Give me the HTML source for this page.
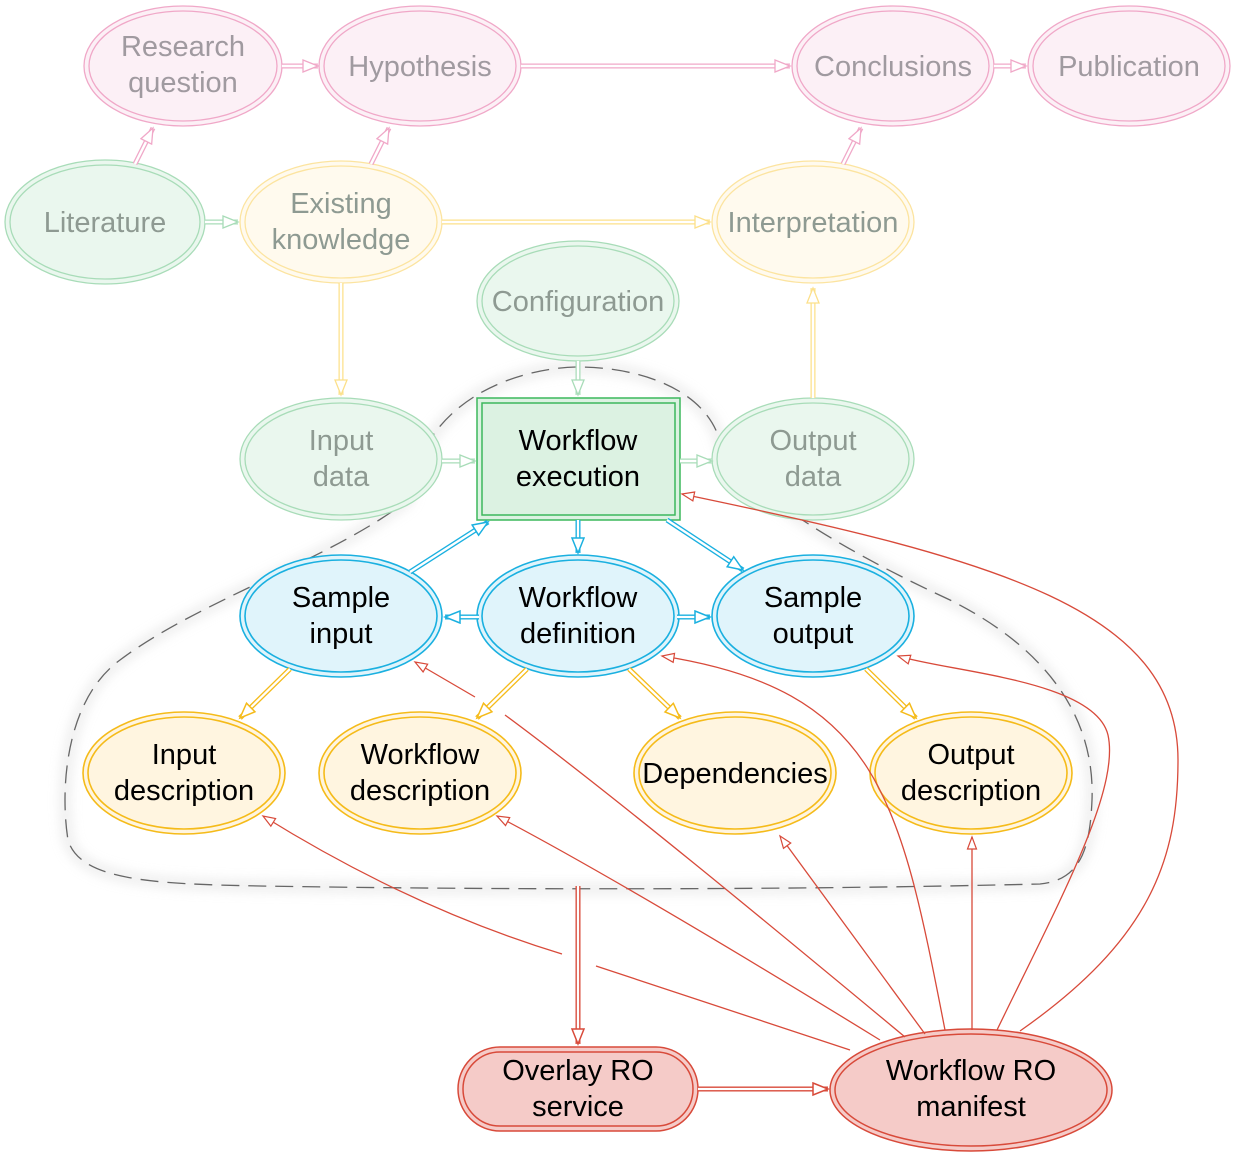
<!DOCTYPE html>
<html><head><meta charset="utf-8"><style>
html,body{margin:0;padding:0;background:#fff;}
svg{display:block;}
text{font-family:"Liberation Sans",sans-serif;font-size:29px;text-anchor:middle;}
.g{fill:#8e9a92}
.pk{fill:#a09aa0}
.k{fill:#000}
</style></head><body>
<svg width="1233" height="1155" viewBox="0 0 1233 1155" xmlns="http://www.w3.org/2000/svg">
<defs>
<marker id="ap" markerUnits="userSpaceOnUse" markerWidth="20" markerHeight="20" refX="16" refY="7" orient="auto"><path d="M1,1 L16,7 L1,13 Z" fill="#fff" stroke="#f0a8c8" stroke-width="1.3"/></marker>
<marker id="ag" markerUnits="userSpaceOnUse" markerWidth="20" markerHeight="20" refX="16" refY="7" orient="auto"><path d="M1,1 L16,7 L1,13 Z" fill="#fff" stroke="#a8dcb8" stroke-width="1.3"/></marker>
<marker id="ay" markerUnits="userSpaceOnUse" markerWidth="20" markerHeight="20" refX="16" refY="7" orient="auto"><path d="M1,1 L16,7 L1,13 Z" fill="#fff" stroke="#fce08a" stroke-width="1.3"/></marker>
<marker id="ab" markerUnits="userSpaceOnUse" markerWidth="20" markerHeight="20" refX="16" refY="7" orient="auto"><path d="M1,1 L16,7 L1,13 Z" fill="#fff" stroke="#1ab0e0" stroke-width="1.5"/></marker>
<marker id="ao" markerUnits="userSpaceOnUse" markerWidth="20" markerHeight="20" refX="16" refY="7" orient="auto"><path d="M1,1 L16,7 L1,13 Z" fill="#fff" stroke="#f5bb1a" stroke-width="1.5"/></marker>
<marker id="ar" markerUnits="userSpaceOnUse" markerWidth="20" markerHeight="20" refX="16" refY="7" orient="auto"><path d="M1,1 L16,7 L1,13 Z" fill="#fff" stroke="#d84a3a" stroke-width="1.5"/></marker>
<marker id="ar2" markerUnits="userSpaceOnUse" markerWidth="16" markerHeight="16" refX="13" refY="6" orient="auto"><path d="M1,1.5 L13,6 L1,10.5 Z" fill="#fff" stroke="#d84a3a" stroke-width="1.2"/></marker>
<filter id="sh" x="-20%" y="-20%" width="140%" height="140%"><feGaussianBlur stdDeviation="6"/></filter>
</defs>

<!-- dashed overlay blob with shadow -->
<path id="blob" d="M408,500 C425,385 540,367 578,367 C640,367 712,390 722,450 C745,485 820,540 950,600 C1050,650 1095,720 1092,800 C1090,850 1080,880 1040,884 C800,890 500,890 260,886 C150,884 80,880 68,840 C60,790 65,700 120,660 C200,600 330,560 408,500 Z" fill="none" stroke="#ddd" stroke-width="8" filter="url(#sh)" opacity="0.7"/>
<path d="M408,500 C425,385 540,367 578,367 C640,367 712,390 722,450 C745,485 820,540 950,600 C1050,650 1095,720 1092,800 C1090,850 1080,880 1040,884 C800,890 500,890 260,886 C150,884 80,880 68,840 C60,790 65,700 120,660 C200,600 330,560 408,500 Z" fill="none" stroke="#666" stroke-width="1.3" stroke-dasharray="18,9"/>

<!-- pink nodes -->
<g fill="#fcf0f6" stroke="#f0a8c8" stroke-width="1.3">
<ellipse cx="183" cy="66" rx="99" ry="60"/><ellipse cx="183" cy="66" rx="94" ry="55"/>
<ellipse cx="420" cy="66" rx="101" ry="60"/><ellipse cx="420" cy="66" rx="96" ry="55"/>
<ellipse cx="893" cy="66" rx="101" ry="60"/><ellipse cx="893" cy="66" rx="96" ry="55"/>
<ellipse cx="1129" cy="66" rx="101" ry="60"/><ellipse cx="1129" cy="66" rx="96" ry="55"/>
</g>
<text class="pk" x="183" y="56">Research</text><text class="pk" x="183" y="92">question</text>
<text class="pk" x="420" y="76">Hypothesis</text>
<text class="pk" x="893" y="76">Conclusions</text>
<text class="pk" x="1129" y="76">Publication</text>

<!-- green light -->
<g fill="#eaf7ee" stroke="#a8dcb8" stroke-width="1.3">
<ellipse cx="105" cy="222" rx="100" ry="62"/><ellipse cx="105" cy="222" rx="95" ry="57"/>
<ellipse cx="578" cy="301" rx="101" ry="60"/><ellipse cx="578" cy="301" rx="96" ry="55"/>
<ellipse cx="341" cy="459" rx="101" ry="61"/><ellipse cx="341" cy="459" rx="96" ry="56"/>
<ellipse cx="813" cy="459" rx="101" ry="61"/><ellipse cx="813" cy="459" rx="96" ry="56"/>
</g>
<text class="g" x="105" y="232">Literature</text>
<text class="g" x="578" y="311">Configuration</text>
<text class="g" x="341" y="450">Input</text><text class="g" x="341" y="486">data</text>
<text class="g" x="813" y="450">Output</text><text class="g" x="813" y="486">data</text>

<!-- yellow light -->
<g fill="#fffaee" stroke="#fce4a0" stroke-width="1.3">
<ellipse cx="341" cy="222" rx="101" ry="61"/><ellipse cx="341" cy="222" rx="96" ry="56"/>
<ellipse cx="813" cy="222" rx="101" ry="61"/><ellipse cx="813" cy="222" rx="96" ry="56"/>
</g>
<text class="g" x="341" y="213">Existing</text><text class="g" x="341" y="249">knowledge</text>
<text class="g" x="813" y="232">Interpretation</text>

<!-- workflow execution -->
<rect x="477" y="398" width="203" height="122" fill="#dcf2e2" stroke="#3cb85c" stroke-width="1.5"/>
<rect x="482" y="403" width="193" height="112" fill="none" stroke="#3cb85c" stroke-width="1.5"/>
<text class="k" x="578" y="450">Workflow</text><text class="k" x="578" y="486">execution</text>

<!-- blue -->
<g fill="#e0f4fb" stroke="#1ab0e0" stroke-width="1.6">
<ellipse cx="341" cy="616" rx="101" ry="61"/><ellipse cx="341" cy="616" rx="96" ry="56"/>
<ellipse cx="578" cy="616" rx="101" ry="61"/><ellipse cx="578" cy="616" rx="96" ry="56"/>
<ellipse cx="813" cy="616" rx="101" ry="61"/><ellipse cx="813" cy="616" rx="96" ry="56"/>
</g>
<text class="k" x="341" y="607">Sample</text><text class="k" x="341" y="643">input</text>
<text class="k" x="578" y="607">Workflow</text><text class="k" x="578" y="643">definition</text>
<text class="k" x="813" y="607">Sample</text><text class="k" x="813" y="643">output</text>

<!-- yellow strong -->
<g fill="#fff5e0" stroke="#f5bb1a" stroke-width="1.6">
<ellipse cx="184" cy="773" rx="101" ry="61"/><ellipse cx="184" cy="773" rx="96" ry="56"/>
<ellipse cx="420" cy="773" rx="101" ry="61"/><ellipse cx="420" cy="773" rx="96" ry="56"/>
<ellipse cx="735" cy="773" rx="101" ry="61"/><ellipse cx="735" cy="773" rx="96" ry="56"/>
<ellipse cx="971" cy="773" rx="101" ry="61"/><ellipse cx="971" cy="773" rx="96" ry="56"/>
</g>
<text class="k" x="184" y="764">Input</text><text class="k" x="184" y="800">description</text>
<text class="k" x="420" y="764">Workflow</text><text class="k" x="420" y="800">description</text>
<text class="k" x="735" y="783">Dependencies</text>
<text class="k" x="971" y="764">Output</text><text class="k" x="971" y="800">description</text>

<!-- red nodes -->
<g fill="#f5cbc8" stroke="#d84a3a" stroke-width="1.5">
<rect x="458" y="1047" width="240" height="84" rx="42"/>
<rect x="463" y="1052" width="230" height="74" rx="37"/>
<ellipse cx="971" cy="1090" rx="141" ry="61"/><ellipse cx="971" cy="1090" rx="136" ry="56"/>
</g>
<text class="k" x="578" y="1080">Overlay RO</text><text class="k" x="578" y="1116">service</text>
<text class="k" x="971" y="1080">Workflow RO</text><text class="k" x="971" y="1116">manifest</text>

<!-- double arrows -->
<g fill="none">
<g stroke="#f0a8c8"><path d="M282,66 H318 M521,66 H790 M994,66 H1026 M135,164 L153,128 M371,164 L389,128 M843,164 L861,128" stroke-width="5"/></g>
<g stroke="#fff" stroke-width="2.5" marker-end="url(#ap)"><path d="M282,66 H318"/><path d="M521,66 H790"/><path d="M994,66 H1026"/><path d="M135,164 L153,128"/><path d="M371,164 L389,128"/><path d="M843,164 L861,128"/></g>

<g stroke="#a8dcb8" stroke-width="5"><path d="M205,222 H238 M578,361 V395 M442,461 H475 M680,461 H712"/></g>
<g stroke="#fff" stroke-width="2.5" marker-end="url(#ag)"><path d="M205,222 H238"/><path d="M578,361 V395"/><path d="M442,461 H475"/><path d="M680,461 H712"/></g>

<g stroke="#fce08a" stroke-width="5"><path d="M442,222 H710 M341,283 V395 M813,398 V288"/></g>
<g stroke="#fff" stroke-width="2.5" marker-end="url(#ay)"><path d="M442,222 H710"/><path d="M341,283 V395"/><path d="M813,398 V288"/></g>

<g stroke="#1ab0e0" stroke-width="5"><path d="M410,572 L488,522 M578,520 V553 M667,520 L743,570 M479,617 H445 M677,617 H710"/></g>
<g stroke="#fff" stroke-width="2.3" marker-end="url(#ab)"><path d="M410,572 L488,522"/><path d="M578,520 V553"/><path d="M667,520 L743,570"/><path d="M479,617 H445"/><path d="M677,617 H710"/></g>

<g stroke="#f5bb1a" stroke-width="5"><path d="M290,669 L240,718 M527,669 L477,718 M629,669 L680,718 M866,669 L916,718"/></g>
<g stroke="#fff" stroke-width="2.3" marker-end="url(#ao)"><path d="M290,669 L240,718"/><path d="M527,669 L477,718"/><path d="M629,669 L680,718"/><path d="M866,669 L916,718"/></g>

<g stroke="#d84a3a" stroke-width="5"><path d="M578,886 V1044 M698,1089 H828"/></g>
<g stroke="#fff" stroke-width="2.3" marker-end="url(#ar)"><path d="M578,886 V1044"/><path d="M698,1089 H828"/></g>
</g>

<!-- red single arrows -->
<g fill="none" stroke="#d84a3a" stroke-width="1.3" marker-end="url(#ar2)">
<path d="M1020,1031 C1150,940 1178,860 1178,760 C1178,610 1000,560 682,494"/>
<path d="M997,1030 C1060,900 1120,790 1108,735 C1095,680 950,672 898,656"/>
<path d="M972,1030 V837"/>
<path d="M945,1030 C900,800 880,690 662,656"/>
<path d="M925,1034 L780,836"/>
<path d="M905,1037 C800,950 620,800 505,715 M475,697 L415,662"/>
<path d="M880,1040 C750,960 600,870 497,816"/>
<path d="M850,1050 L596,966 M562,954 C450,920 350,870 263,816"/>
</g>
</svg>
</body></html>
